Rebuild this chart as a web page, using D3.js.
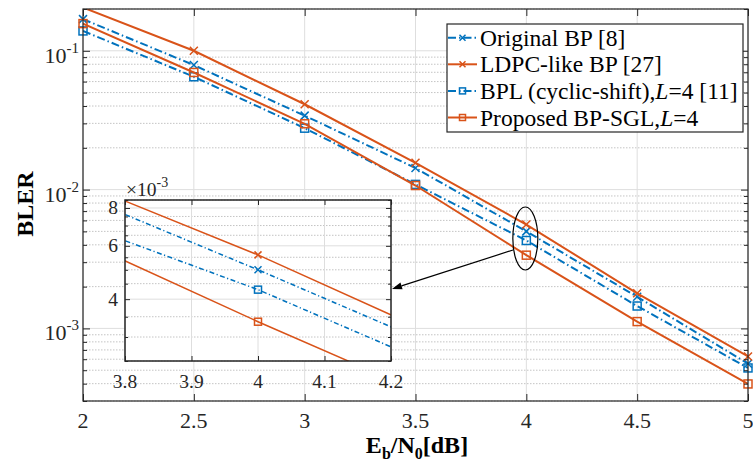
<!doctype html>
<html>
<head>
  <script src="https://d3js.org/d3.v7.min.js"></script>
</head>
<body style="margin:0">
  <svg width="753" height="467"></svg>
  <script>
    // data
    var snr = [2, 2.5, 3, 3.5, 4, 4.5, 5];
    var origBP = [0.169, 0.0789, 0.0341, 0.0143, 0.0050, 0.00169, 0.000557];
    var ldpcBP = [0.205, 0.100, 0.0412, 0.0156, 0.0056, 0.00179, 0.000628];
    var bplBP = [0.139, 0.065, 0.0277, 0.0109, 0.0043, 0.00145, 0.000519];
    var sglBP = [0.157, 0.0698, 0.0298, 0.0107, 0.00337, 0.00112, 0.000398];

    var xTicks = [2, 2.5, 3, 3.5, 4, 4.5, 5];
    var yTicks = [1e-3, 1e-2, 1e-1];
    var yExp = ["-3", "-2", "-1"];
    var insetXTicks = [3.8, 3.9, 4, 4.1, 4.2];
    var insetYTicks = [4e-3, 6e-3, 8e-3];
    var insetYLabels = ["4", "6", "8"];
    var insetMinor = [2.5e-3, 3e-3, 3.5e-3, 4.5e-3, 5e-3, 5.5e-3, 6.5e-3, 7e-3, 7.5e-3, 8.5e-3];

    var blue = "#0072BD", orange = "#D95319", axisCol = "#262626";
    var FONT = "Liberation Serif";

    var series = [
      { name: "Original BP [8]", values: origBP, color: blue, dash: true, marker: "x" },
      { name: "LDPC-like BP [27]", values: ldpcBP, color: orange, dash: false, marker: "x" },
      { name: "BPL", values: bplBP, color: blue, dash: true, marker: "s" },
      { name: "Proposed", values: sglBP, color: orange, dash: false, marker: "s" }
    ];

    var svg = d3.select("svg");

    var x = d3.scaleLinear().domain([2, 5]).range([83, 748]);
    var y = d3.scaleLog().domain([3e-4, 0.2]).range([401, 9]);

    function isDecade(v) {
      var l = Math.log10(v);
      return Math.abs(l - Math.round(l)) < 1e-6;
    }
    var yMinor = y.ticks().filter(v => !isDecade(v));

    function addText(g, px, py, size) {
      return g.append("text").attr("x", px).attr("y", py)
        .attr("font-family", FONT).attr("font-size", size);
    }

    function drawMarker(g, type, cx, cy, s, color, sw) {
      if (type == "x") {
        g.append("path")
          .attr("d", `M${cx - s},${cy - s}L${cx + s},${cy + s}M${cx - s},${cy + s}L${cx + s},${cy - s}`)
          .attr("stroke", color).attr("stroke-width", sw).attr("fill", "none");
      } else {
        g.append("rect")
          .attr("x", cx - s).attr("y", cy - s).attr("width", 2 * s).attr("height", 2 * s)
          .attr("stroke", color).attr("stroke-width", sw).attr("fill", "none");
      }
    }

    // ---------- main axes ----------
    var grid = svg.append("g");
    grid.selectAll(".ymin").data(yMinor).enter().append("line")
      .attr("x1", 83).attr("x2", 748).attr("y1", d => y(d)).attr("y2", d => y(d))
      .attr("stroke", "#c4c4c4").attr("stroke-dasharray", "1.5,1.5");
    grid.selectAll(".ymaj").data(yTicks).enter().append("line")
      .attr("x1", 83).attr("x2", 748).attr("y1", d => y(d)).attr("y2", d => y(d))
      .attr("stroke", "#dedede");
    grid.selectAll(".xg").data(xTicks).enter().append("line")
      .attr("y1", 9).attr("y2", 401).attr("x1", d => x(d)).attr("x2", d => x(d))
      .attr("stroke", "#dedede");

    svg.append("clipPath").attr("id", "mainclip")
      .append("rect").attr("x", 83).attr("y", 9).attr("width", 665).attr("height", 392);

    var line = d3.line().x((d, i) => x(snr[i])).y(d => y(d));
    var plot = svg.append("g");
    series.forEach(function (s) {
      plot.append("path")
        .attr("d", line(s.values))
        .attr("clip-path", "url(#mainclip)")
        .attr("fill", "none")
        .attr("stroke", s.color)
        .attr("stroke-width", 2)
        .attr("stroke-dasharray", s.dash ? "8,3,1.5,3" : null);
      s.values.forEach(function (v, i) {
        if (v <= 0.2) drawMarker(plot, s.marker, x(snr[i]), y(v), 4, s.color, 1.5);
      });
    });

    // ticks (inward) on four sides
    var ax = svg.append("g");
    ax.append("g").attr("transform", "translate(0,401)")
      .call(d3.axisBottom(x).tickValues(xTicks).tickSize(-7).tickFormat(""));
    ax.append("g").attr("transform", "translate(0,9)")
      .call(d3.axisTop(x).tickValues(xTicks).tickSize(-7).tickFormat(""));
    ax.append("g").attr("transform", "translate(83,0)")
      .call(d3.axisLeft(y).tickValues(yTicks).tickSize(-7).tickFormat(""));
    ax.append("g").attr("transform", "translate(748,0)")
      .call(d3.axisRight(y).tickValues(yTicks).tickSize(-7).tickFormat(""));
    ax.append("g").attr("transform", "translate(83,0)")
      .call(d3.axisLeft(y).tickValues(yMinor).tickSize(-4).tickFormat(""));
    ax.append("g").attr("transform", "translate(748,0)")
      .call(d3.axisRight(y).tickValues(yMinor).tickSize(-4).tickFormat(""));
    ax.selectAll(".domain").remove();
    ax.selectAll("line").attr("stroke", axisCol);
    svg.append("rect").attr("x", 83).attr("y", 9).attr("width", 665).attr("height", 392)
      .attr("fill", "none").attr("stroke", axisCol).attr("stroke-width", 1.2);

    xTicks.forEach(function (v) {
      addText(svg, x(v), 428, 22).attr("text-anchor", "middle").attr("fill", axisCol).text(String(v));
    });

    yTicks.forEach(function (v, i) {
      var t = addText(svg, 79, y(v) + 12, 22).attr("text-anchor", "end").attr("fill", axisCol);
      t.append("tspan").text("10");
      t.append("tspan").attr("dy", -10).attr("font-size", 15).text(yExp[i]);
    });

    addText(svg, 0, 0, 24).attr("transform", "translate(33,204) rotate(-90)")
      .attr("text-anchor", "middle").attr("font-weight", "bold").text("BLER");

    var xl = addText(svg, 417, 453, 24).attr("text-anchor", "middle").attr("font-weight", "bold");
    xl.append("tspan").text("E");
    xl.append("tspan").attr("font-size", 16).attr("dy", 6).text("b");
    xl.append("tspan").attr("dy", -6).text("/N");
    xl.append("tspan").attr("font-size", 16).attr("dy", 6).text("0");
    xl.append("tspan").attr("dy", -6).text("[dB]");

    // ---------- legend ----------
    var lg = svg.append("g");
    lg.append("rect").attr("x", 447).attr("y", 24).attr("width", 296).attr("height", 108)
      .attr("fill", "#fff").attr("stroke", axisCol).attr("stroke-width", 1.2);
    var legTexts = [
      [["Original BP [8]", false]],
      [["LDPC-like BP [27]", false]],
      [["BPL (cyclic-shift),", false], ["L", true], ["=4 [11]", false]],
      [["Proposed BP-SGL,", false], ["L", true], ["=4", false]]
    ];
    series.forEach(function (s, i) {
      var cy = 37.7 + i * 26.6;
      lg.append("line").attr("x1", 448).attr("x2", 477).attr("y1", cy).attr("y2", cy)
        .attr("stroke", s.color).attr("stroke-width", 2)
        .attr("stroke-dasharray", s.dash ? "8,3,1.5,3" : null);
      drawMarker(lg, s.marker, 462.5, cy, 3, s.color, 1.5);
      var t = addText(lg, 480, cy + 8, 23.5);
      legTexts[i].forEach(function (p) {
        t.append("tspan").attr("font-style", p[1] ? "italic" : null).text(p[0]);
      });
    });

    // ---------- inset ----------
    var ix = d3.scaleLinear().domain([3.8, 4.2]).range([125, 391]);
    var iy = d3.scaleLog().domain([2.5e-3, 8.5e-3]).range([361, 200]);
    var ins = svg.append("g");
    ins.append("rect").attr("x", 125).attr("y", 200).attr("width", 266).attr("height", 161)
      .attr("fill", "#fff");
    ins.selectAll(".imin").data(insetMinor).enter().append("line")
      .attr("x1", 125).attr("x2", 391).attr("y1", d => iy(d)).attr("y2", d => iy(d))
      .attr("stroke", "#c4c4c4").attr("stroke-dasharray", "1.5,1.5");
    ins.selectAll(".imaj").data(insetYTicks).enter().append("line")
      .attr("x1", 125).attr("x2", 391).attr("y1", d => iy(d)).attr("y2", d => iy(d))
      .attr("stroke", "#dedede");
    ins.selectAll(".ixg").data(insetXTicks).enter().append("line")
      .attr("y1", 200).attr("y2", 361).attr("x1", d => ix(d)).attr("x2", d => ix(d))
      .attr("stroke", "#dedede");

    svg.append("clipPath").attr("id", "insetclip")
      .append("rect").attr("x", 125).attr("y", 200).attr("width", 266).attr("height", 161);
    var iline = d3.line().x((d, i) => ix(snr[i])).y(d => iy(d));
    series.forEach(function (s) {
      ins.append("path")
        .attr("d", iline(s.values))
        .attr("clip-path", "url(#insetclip)")
        .attr("fill", "none")
        .attr("stroke", s.color)
        .attr("stroke-width", 1.5)
        .attr("stroke-dasharray", s.dash ? "5,2.5,1.2,2.5" : null);
      s.values.forEach(function (v, i) {
        if (snr[i] >= 3.8 && snr[i] <= 4.2) drawMarker(ins, s.marker, ix(snr[i]), iy(v), 3.5, s.color, 1.5);
      });
    });

    var iax = ins.append("g");
    iax.append("g").attr("transform", "translate(0,361)")
      .call(d3.axisBottom(ix).tickValues(insetXTicks).tickSize(-5).tickFormat(""));
    iax.append("g").attr("transform", "translate(0,200)")
      .call(d3.axisTop(ix).tickValues(insetXTicks).tickSize(-5).tickFormat(""));
    iax.append("g").attr("transform", "translate(125,0)")
      .call(d3.axisLeft(iy).tickValues(insetYTicks).tickSize(-5).tickFormat(""));
    iax.append("g").attr("transform", "translate(391,0)")
      .call(d3.axisRight(iy).tickValues(insetYTicks).tickSize(-5).tickFormat(""));
    iax.append("g").attr("transform", "translate(125,0)")
      .call(d3.axisLeft(iy).tickValues(insetMinor).tickSize(-3).tickFormat(""));
    iax.append("g").attr("transform", "translate(391,0)")
      .call(d3.axisRight(iy).tickValues(insetMinor).tickSize(-3).tickFormat(""));
    iax.selectAll(".domain").remove();
    iax.selectAll("line").attr("stroke", axisCol);
    ins.append("rect").attr("x", 125).attr("y", 200).attr("width", 266).attr("height", 161)
      .attr("fill", "none").attr("stroke", axisCol).attr("stroke-width", 1.5);

    insetXTicks.forEach(function (v) {
      addText(ins, ix(v), 388, 19.5).attr("text-anchor", "middle").attr("fill", axisCol)
        .text(d3.format(".1f")(v).replace(".0", ""));
    });
    insetYTicks.forEach(function (v, i) {
      addText(ins, 118, iy(v) + 6.5, 19.5).attr("text-anchor", "end").attr("fill", axisCol)
        .text(insetYLabels[i]);
    });
    var mult = addText(ins, 126, 196, 19.5).attr("fill", axisCol);
    mult.append("tspan").text("\u00d710");
    mult.append("tspan").attr("dy", -9).attr("font-size", 14).text("-3");

    // ---------- ellipse + arrow ----------
    svg.append("ellipse").attr("cx", x(4) - 1).attr("cy", 238.5).attr("rx", 12.5).attr("ry", 31.5)
      .attr("fill", "none").attr("stroke", "#000").attr("stroke-width", 1.2);
    var a0 = [513, 250], a1 = [392, 289];
    var ang = Math.atan2(a1[1] - a0[1], a1[0] - a0[0]);
    var hl = 10, hw = 3.5;
    var bx = a1[0] - hl * Math.cos(ang), by = a1[1] - hl * Math.sin(ang);
    svg.append("line").attr("x1", a0[0]).attr("y1", a0[1]).attr("x2", bx).attr("y2", by)
      .attr("stroke", "#000").attr("stroke-width", 1.2);
    svg.append("path")
      .attr("d", `M${a1[0]},${a1[1]}L${bx + hw * Math.sin(ang)},${by - hw * Math.cos(ang)}L${bx - hw * Math.sin(ang)},${by + hw * Math.cos(ang)}Z`)
      .attr("fill", "#000");
  </script>
</body>
</html>
